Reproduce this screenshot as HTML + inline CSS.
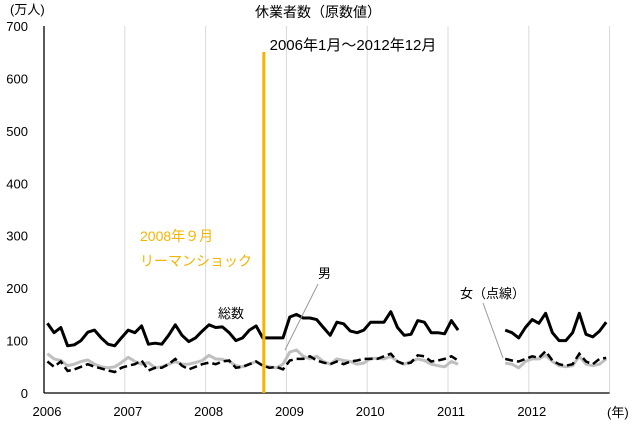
<!DOCTYPE html>
<html><head><meta charset="utf-8"><style>
body{margin:0;background:#fff;}
svg text{font-family:"Liberation Sans","Noto Sans CJK JP",sans-serif;}
</style></head><body>
<svg id="c" width="634" height="427" xmlns="http://www.w3.org/2000/svg"></svg>
<script>
const years=["2006","2007","2008","2009","2010","2011","2012"];
const yTicks=[0,100,200,300,400,500,600,700];
const total=[133,115,125,90,92,100,116,120,105,93,90,105,
120,115,128,93,95,93,110,130,110,98,105,118,
130,125,126,115,100,105,120,128,105,105,105,105,
145,150,143,143,140,125,110,135,132,118,115,120,
135,135,135,155,125,110,112,138,135,115,115,113,
138,120,null,null,null,null,null,null,120,115,105,125,
140,133,152,115,100,100,115,152,112,107,118,135];
const men=[75,65,62,52,55,60,63,55,50,48,50,58,
68,60,55,58,48,50,55,60,55,55,58,62,
72,65,64,60,52,50,55,60,52,50,48,55,
78,82,70,65,70,60,55,65,62,60,55,57,
66,66,65,70,60,55,60,65,62,55,52,50,
60,55,null,null,null,null,null,null,57,55,48,60,
65,65,72,60,52,50,52,70,55,52,55,65];
const women=[60,50,60,42,45,50,55,50,47,43,40,48,
52,55,62,43,48,48,55,65,52,45,50,55,
58,55,60,62,48,50,55,60,52,48,50,45,
62,65,65,70,62,58,55,60,55,60,62,65,
65,65,70,75,60,55,58,72,70,60,62,65,
70,62,null,null,null,null,null,null,65,62,60,65,
70,67,80,62,55,52,55,75,60,55,65,67];
const lehmanIndex=32;
const svg=document.getElementById('c');
const NS='http://www.w3.org/2000/svg';
const x0=44,yw=80.8,y0=393,ppu=367/700;
const X=i=>x0+(i+0.5)*yw/12;
const Y=v=>y0-v*ppu;
function el(t,a,txt){const e=document.createElementNS(NS,t);for(const k in a)e.setAttribute(k,a[k]);if(txt!==undefined)e.textContent=txt;svg.appendChild(e);return e;}
years.forEach((yr,i)=>{
 if(i>0){const g=el('line',{x1:x0+i*yw,x2:x0+i*yw,y1:Y(700),y2:y0,stroke:'#d9d9d9','stroke-width':1});
 }
 const t=el('text',{x:x0+i*yw+3,y:416,'font-size':13,'text-anchor':'middle'},yr);
 
});
const gl=el('line',{x1:x0+7*yw,x2:x0+7*yw,y1:Y(700),y2:y0,stroke:'#d9d9d9','stroke-width':1});

yTicks.forEach(v=>{const t=el('text',{x:28,y:Y(v)+5,'font-size':13,'text-anchor':'end'},v);
 });
const ax=el('line',{x1:x0,x2:x0,y1:Y(700),y2:y0,stroke:'#000','stroke-width':1.3});

const bx=el('line',{x1:x0,x2:x0+7*yw,y1:y0,y2:y0,stroke:'#000','stroke-width':1.3});

function path(arr){let d='',pen=false;arr.forEach((v,i)=>{if(v==null){pen=false;return;}d+=(pen?'L':'M')+X(i).toFixed(1)+' '+Y(v).toFixed(1);pen=true;});return d;}
const pm=el('path',{d:path(men),fill:'none',stroke:'#bfbfbf','stroke-width':3,'stroke-linejoin':'round'});

const pw=el('path',{d:path(women),fill:'none',stroke:'#000','stroke-width':2.5,'stroke-dasharray':'8,4'});

const pt=el('path',{d:path(total),fill:'none',stroke:'#000','stroke-width':3,'stroke-linejoin':'round'});

const lx=X(lehmanIndex)+1;
const lm=el('line',{x1:lx,x2:lx,y1:52,y2:y0,stroke:'#f5b400','stroke-width':3});

</script>
<svg width="634" height="427" style="position:absolute;left:0;top:0" xmlns="http://www.w3.org/2000/svg">
<text x="10" y="14" font-size="13">(万人)</text>
<text x="318" y="17" font-size="14" text-anchor="middle">休業者数（原数値）</text>
<text x="353" y="50" font-size="15" text-anchor="middle">2006年1月～2012年12月</text>
<text x="607" y="417" font-size="13">(年)</text>
<text x="140" y="241" font-size="14" fill="#f5b400">2008年９月</text>
<text x="140" y="266" font-size="14" fill="#f5b400">リーマンショック</text>
<text x="218" y="318" font-size="13">総数</text>
<text x="318" y="278" font-size="13">男</text>
<line x1="318" y1="284" x2="285" y2="350" stroke="#999" stroke-width="1"/>
<text x="460" y="298" font-size="13">女（点線）</text>
<line x1="483" y1="303" x2="503" y2="358" stroke="#999" stroke-width="1"/>
</svg>
</body></html>
